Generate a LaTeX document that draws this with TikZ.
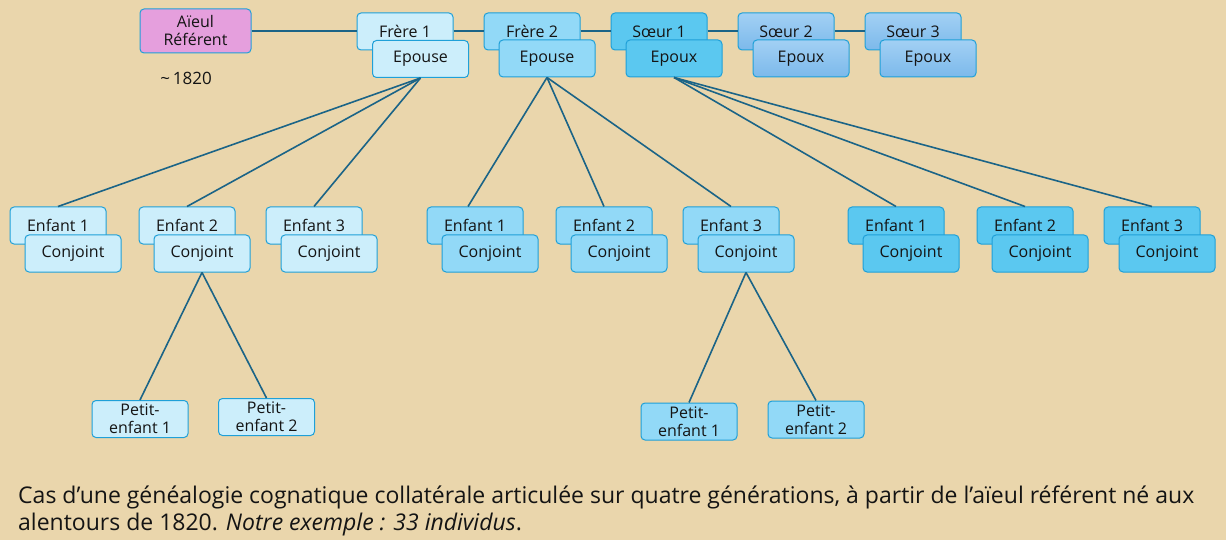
\documentclass[tikz,border=0pt]{standalone}
\usepackage{fontspec}
\setmainfont{Open Sans}
\definecolor{bgc}{HTML}{EAD6AC}
\definecolor{bd}{HTML}{1FA0D8}
\definecolor{ln}{HTML}{1B6487}
\definecolor{ca}{HTML}{CCEEFB}
\definecolor{cb}{HTML}{92D9F7}
\definecolor{cc}{HTML}{5BC8F0}
\definecolor{cdt}{HTML}{A2D0F4}
\definecolor{cdb}{HTML}{7CB9EB}
\definecolor{pk}{HTML}{E59FDD}
\definecolor{tx}{HTML}{141414}
\tikzset{
  pbox/.style={draw=bd, line width=1pt, rounded corners=4pt, minimum width=96pt, minimum height=37pt, inner sep=0pt, text=tx, font=\fontsize{16}{18}\selectfont, align=center},
  la/.style={pbox, fill=ca},
  lb/.style={pbox, fill=cb},
  lc/.style={pbox, fill=cc},
  ld/.style={pbox, top color=cdt, bottom color=cdb},
  conn/.style={draw=ln, line width=1.6pt},
}
\begin{document}
\begin{tikzpicture}[x=1pt,y=-1pt]
\fill[bgc] (0,0) rectangle (1226,540);
\useasboundingbox (0,0) rectangle (1226,540);
% top row
\node[pbox, fill=pk, minimum width=111pt, minimum height=44pt] (aieul) at (195.5,31) {Aïeul\\Référent};
\node[font=\fontsize{17}{18}\selectfont, text=tx] (date) at (186,78) {\textasciitilde\,1820};
\node[la] (f1) at (405,31.5) {Frère 1};
\node[la] (e1) at (420.5,59) {Epouse};
\node[lb] (f2) at (532,31.5) {Frère 2};
\node[lb] (e2) at (547,58.5) {Epouse};
\node[lc] (s1) at (659,31.5) {Sœur 1};
\node[lc] (x1) at (674,58.5) {Epoux};
\node[ld] (s2) at (786,31.5) {Sœur 2};
\node[ld] (x2) at (801,58.5) {Epoux};
\node[ld] (s3) at (913,31.5) {Sœur 3};
\node[ld] (x3) at (928,58.5) {Epoux};
\draw[conn] (aieul.east |- 0,31) -- (f1.west |- 0,31);
\draw[conn] (f1.east |- 0,31) -- (f2.west |- 0,31);
\draw[conn] (f2.east |- 0,31) -- (s1.west |- 0,31);
\draw[conn] (s1.east |- 0,31) -- (s2.west |- 0,31);
\draw[conn] (s2.east |- 0,31) -- (s3.west |- 0,31);
% children group 1
\node[la] (a1) at (58,225.5) {Enfant 1};
\node[la] (a1c) at (73,253.5) {Conjoint};
\node[la] (a2) at (187,225.5) {Enfant 2};
\node[la] (a2c) at (202,253.5) {Conjoint};
\node[la] (a3) at (314,225.5) {Enfant 3};
\node[la] (a3c) at (329,253.5) {Conjoint};
% group 2
\node[lb] (b1) at (475,225.5) {Enfant 1};
\node[lb] (b1c) at (490,253.5) {Conjoint};
\node[lb] (b2) at (604,225.5) {Enfant 2};
\node[lb] (b2c) at (619,253.5) {Conjoint};
\node[lb] (b3) at (731,225.5) {Enfant 3};
\node[lb] (b3c) at (746,253.5) {Conjoint};
% group 3
\node[lc] (c1) at (896,225.5) {Enfant 1};
\node[lc] (c1c) at (911,253.5) {Conjoint};
\node[lc] (c2) at (1025,225.5) {Enfant 2};
\node[lc] (c2c) at (1040,253.5) {Conjoint};
\node[lc] (c3) at (1152,225.5) {Enfant 3};
\node[lc] (c3c) at (1167,253.5) {Conjoint};
% grandchildren
\node[la] (p1) at (140,419) {Petit-\\enfant 1};
\node[la] (p2) at (266.5,417) {Petit-\\enfant 2};
\node[lb] (q1) at (689,421.5) {Petit-\\enfant 1};
\node[lb] (q2) at (816,419.5) {Petit-\\enfant 2};
% connectors
\draw[conn] (e1.south) -- (a1.north);
\draw[conn] (e1.south) -- (a2.north);
\draw[conn] (e1.south) -- (a3.north);
\draw[conn] (e2.south) -- ([xshift=-7pt]b1.north);
\draw[conn] (e2.south) -- (b2.north);
\draw[conn] (e2.south) -- (b3.north);
\draw[conn] (x1.south) -- (c1.north);
\draw[conn] (x1.south) -- (c2.north);
\draw[conn] (x1.south) -- (c3.north);
\draw[conn] (a2c.south) -- (p1.north);
\draw[conn] (a2c.south) -- (p2.north);
\draw[conn] (b3c.south) -- (q1.north);
\draw[conn] (b3c.south) -- (q2.north);
% caption
\node[anchor=base west, inner sep=0pt, text=tx, font=\fontsize{23}{27}\selectfont] (cap1) at (18,503) {Cas d’une généalogie cognatique collatérale articulée sur quatre générations, à partir de l’aïeul référent né aux};
\node[anchor=base west, inner sep=0pt, text=tx, font=\fontsize{23}{27}\selectfont] (cap2) at (18,530) {alentours de 1820. \textit{Notre exemple : 33 individus}.};
\end{tikzpicture}
\end{document}
